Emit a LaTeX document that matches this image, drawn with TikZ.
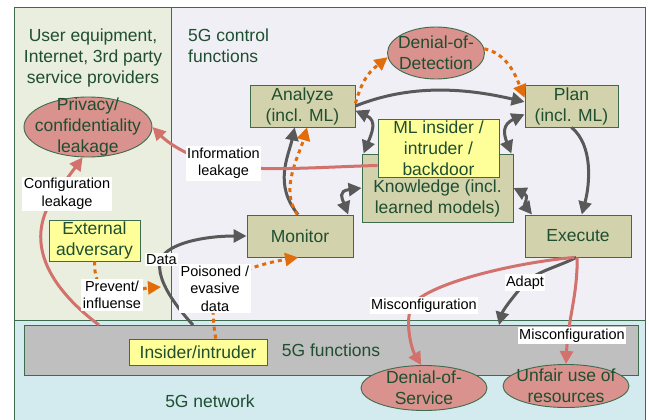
\documentclass[tikz,border=0pt]{standalone}
\usepackage{fontspec}
\setmainfont{Liberation Sans}
\usetikzlibrary{arrows.meta,shapes.geometric,calc}
\definecolor{leftgreen}{HTML}{EAEEDE}
\definecolor{ctrlbg}{HTML}{F0EFF5}
\definecolor{netblue}{HTML}{D3EBEF}
\definecolor{bargray}{HTML}{BFBFBF}
\definecolor{boxfill}{HTML}{D2D3AC}
\definecolor{yboxfill}{HTML}{FFFF99}
\definecolor{redfill}{HTML}{D9928D}
\definecolor{edge}{HTML}{3E6B4E}
\definecolor{tgreen}{HTML}{1F4E30}
\definecolor{redline}{HTML}{D3716C}
\definecolor{oline}{HTML}{E26B0A}
\definecolor{grayline}{HTML}{595959}
\begin{document}
\begin{tikzpicture}[x=1pt,y=-1pt,
  mainf/.style={font=\fontsize{17.5}{21}\selectfont},
  box/.style={draw=edge,fill=boxfill,line width=0.9pt,text=tgreen,mainf,align=center,inner sep=0pt},
  ybox/.style={box,fill=yboxfill},
  risk/.style={ellipse,draw=edge,fill=redfill,line width=0.9pt,inner sep=0pt},
  risktext/.style={text=tgreen,mainf,align=center,inner sep=0pt},
  titletext/.style={text=tgreen,mainf,inner sep=0pt},
  lab/.style={fill=white,text=black,font=\fontsize{14.5}{17.5}\selectfont,align=center,inner sep=1.5pt},
  tipx/.tip={Triangle[length=13pt,width=13pt]},
  garrow/.style={draw=grayline,line width=3pt,-tipx},
  gdarrow/.style={draw=grayline,line width=3pt,tipx-tipx},
  rarrow/.style={draw=redline,line width=3pt,-tipx},
  oarrow/.style={draw=oline,line width=3pt,dash pattern=on 4pt off 4pt,-tipx},
  panel/.style={draw=edge,line width=0.9pt},
]
\useasboundingbox (0,0) rectangle (649,420);
% panels
\fill[netblue] (14,320) rectangle (645,420);
\draw[panel] (14,420) -- (14,320) -- (645,320) -- (645,420);
\draw[panel,fill=leftgreen] (14,7) rectangle (171,320);
\draw[panel,fill=ctrlbg] (171,7) rectangle (645,320);

% titles
\node[titletext,align=center,anchor=north] (uetitle) at (93,29) {User equipment,\\Internet, 3rd party\\service providers};
\node[titletext,align=left,anchor=north west] (ctitle) at (188,29) {5G control\\functions};
\node[titletext] (nettitle) at (210,401) {5G network};

% 5G functions bar
\node[box,fill=bargray,minimum width=614pt,minimum height=50pt] (fn) at (331,350) {5G functions};
\node[ybox,minimum width=138pt,minimum height=26pt] (ins) at (198,352) {Insider/intruder};

% control boxes
\node[box,minimum width=105pt,minimum height=42pt] (an) at (302.5,106) {Analyze\\(incl. ML)};
\node[box,minimum width=93pt,minimum height=42pt] (pl) at (571.5,106) {Plan\\(incl. ML)};
\node[box,minimum width=151pt,minimum height=68pt] (kn) at (437.5,188) {};
\node[risktext] (kntext) at (437.5,198) {Knowledge (incl.\\learned models)};
\node[ybox,minimum width=121pt,minimum height=58pt] (ml) at (438.5,148) {ML insider /\\intruder /\\backdoor};
\node[box,minimum width=106pt,minimum height=42pt] (mo) at (300,236) {Monitor};
\node[box,minimum width=106pt,minimum height=42pt] (ex) at (578,236) {Execute};
\node[ybox,minimum width=91pt,minimum height=41pt] (ext) at (94.5,240.5) {External\\adversary};

% risks
\node[risk,minimum width=128pt,minimum height=60pt] (priv) at (88,127) {};
\node[risktext] (privtext) at (88,127) {Privacy/\\confidentiality\\leakage};
\node[risk,minimum width=97pt,minimum height=52pt] (dod) at (436,53) {};
\node[risktext] (dodtext) at (436,53) {Denial-of-\\Detection};
\node[risk,minimum width=126pt,minimum height=45pt] (dos) at (424,388) {};
\node[risktext] (dostext) at (424,388) {Denial-of-\\Service};
\node[risk,minimum width=126pt,minimum height=43pt] (unf) at (566,386) {};
\node[risktext] (unftext) at (566,386) {Unfair use of\\resources};

% free ends
\coordinate (datastart) at (193,325);
\coordinate (cfgstart) at (99,325);
\coordinate (prevend) at (161,287);
\coordinate (adaptend) at (499,325);

% MAPE loop
\draw[garrow] (an.east) .. controls +(55,-22) and +(-60,-14) .. (pl.175);
\draw[gdarrow] (an.-5) .. controls +(22,10) and +(8,-20) .. (kn.155);
\draw[gdarrow] (pl.190) .. controls +(-22,10) and +(-8,-20) .. (kn.25);
\draw[garrow] (pl.south) .. controls +(22,18) and +(8,-30) .. (ex.80);
\draw[gdarrow] (kn.east) .. controls +(16,8) and +(-8,-10) .. (ex.155);
\draw[gdarrow] (kn.west) .. controls +(-24,3) and +(-6,-16) .. (mo.24);
\draw[garrow] (mo.95) .. controls +(-25,-30) and +(-6,28) .. (an.250);
\draw[oarrow] (mo.97) .. controls +(-18,-25) and +(-8,28) .. (an.-78);

% data
\draw[garrow] (datastart) .. controls (170,300) and (155,275) .. (161,259) .. controls (168,243) and (205,236) .. (mo.west);

% leakages
\draw[rarrow] (cfgstart) .. controls (55,292) and (20,245) .. (55,195) -- (priv.-100);
\draw[rarrow] (ml.196) .. controls (320,167) and (260,172) .. (223,165) .. controls (195,160) and (170,145) .. (priv.east);

% adversary influence
\draw[oarrow] (ext.south) .. controls +(0,20) and (100,290) .. (112,295) .. controls (130,292) and (145,288) .. (prevend);
\draw[oarrow] (ins.37) .. controls +(-3,-15) and (212,300) .. (215,288) .. controls (235,270) and (270,262) .. (mo.-95);
\draw[oarrow] (an.3) .. controls +(8,-28) and +(-15,12) .. (dod.185);
\draw[oarrow] (dod.5) .. controls +(22,5) and +(-10,-25) .. (pl.170);

% execute outputs
\draw[garrow] (ex.-95) .. controls (560,266) and (535,272) .. (525,283) .. controls (512,298) and (503,310) .. (adaptend);
\draw[rarrow] (ex.-100) .. controls (520,262) and (430,282) .. (412,305) .. controls (404,322) and (412,350) .. (dos.97);
\draw[rarrow] (ex.-92) .. controls +(0,40) and +(2,-45) .. (unf.north);

% labels
\node[lab] (ilab) at (223.5,163.5) {Information\\leakage};
\node[lab] (clab) at (67,194) {Configuration\\leakage};
\node[lab] (dlab) at (161.5,259.5) {Data};
\node[lab] (plab) at (112,295) {Prevent/\\influense};
\node[lab] (poilab) at (215,288.5) {Poisoned /\\evasive\\data};
\node[lab] (alab) at (525,282.5) {Adapt};
\node[lab] (mlab1) at (424,305.5) {Misconfiguration};
\node[lab] (mlab2) at (572,335.5) {Misconfiguration};
\end{tikzpicture}
\end{document}
